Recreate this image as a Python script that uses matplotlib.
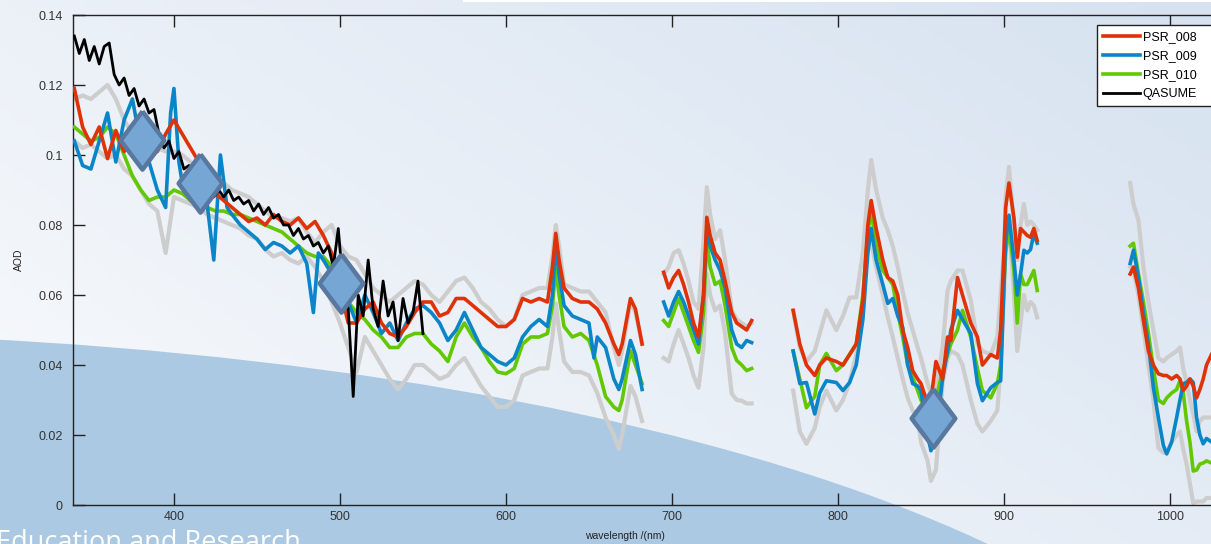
import numpy as np
import matplotlib
matplotlib.use("Agg")
import matplotlib.pyplot as plt
from matplotlib.patches import Ellipse, Rectangle

nan = np.nan

# ---- data ----
# segment 1 wavelength grid (shared by PSR_008, PSR_010 and the grey bounds)
wl1 = [340, 345, 350, 355, 360, 365, 370, 375, 380, 385, 390, 395, 400, 405, 410, 415, 420, 425, 430, 435,
       440, 445, 450, 455, 460, 465, 470, 475, 480, 485, 490, 495, 500, 505, 510, 515, 520, 525, 530, 535,
       540, 545, 550, 555, 560, 565, 570, 575, 580, 585, 590, 595, 600, 605, 610, 615, 620, 625,
       628, 630, 632, 635, 640, 645, 650, 655, 660, 665, 668, 670, 675, 678, 682]
wl2 = [695, 698, 701, 704, 707, 710, 713, 716, 719, 721, 723, 726, 729, 732, 736, 739, 742, 745, 748]
wl3 = [773, 777, 781, 786, 789, 793, 799, 803, 807, 811, 815, 818, 820, 823, 827, 830, 833, 836, 839, 842,
       845, 848, 850, 854, 856, 859, 863, 866, 868, 872, 875, 880, 884, 887, 892, 896, 898, 900, 901, 903,
       906, 908, 910, 912, 914, 916, 918, 920]
wl4 = [976, 978, 981, 984, 987, 990, 993, 996, 998, 1001, 1004, 1006, 1008, 1010, 1012, 1014, 1016, 1018,
       1020, 1022, 1025]

# PSR_008
psr008_1 = [0.119, 0.108, 0.103, 0.108, 0.099, 0.107, 0.101, 0.104, 0.102, 0.103, 0.101, 0.106, 0.110, 0.106,
            0.102, 0.098, 0.092, 0.089, 0.087, 0.085, 0.083, 0.081, 0.082, 0.080, 0.083, 0.081, 0.080, 0.082,
            0.079, 0.081, 0.077, 0.072, 0.062, 0.052, 0.052, 0.056, 0.058, 0.052, 0.049, 0.048, 0.051, 0.055,
            0.058, 0.058, 0.054, 0.055, 0.059, 0.059, 0.057, 0.055, 0.053, 0.051, 0.051, 0.053, 0.059, 0.058,
            0.059, 0.058, 0.068, 0.0776, 0.070, 0.062, 0.059, 0.058, 0.058, 0.056, 0.052, 0.046, 0.043, 0.046,
            0.059, 0.056, 0.046]
psr008_2 = [0.0665, 0.062, 0.065, 0.067, 0.063, 0.058, 0.052, 0.048, 0.060, 0.0822, 0.077, 0.072, 0.070, 0.064,
            0.055, 0.052, 0.051, 0.050, 0.0527]
psr008_3 = [0.0556, 0.046, 0.040, 0.037, 0.040, 0.042, 0.041, 0.040, 0.043, 0.046,
            0.0585, 0.080, 0.087, 0.079, 0.070, 0.065, 0.064, 0.060, 0.0499, 0.045,
            0.0384, 0.036, 0.0347, 0.029, 0.030, 0.041, 0.036, 0.048, 0.047, 0.065,
            0.060, 0.052, 0.048, 0.040, 0.043, 0.042, 0.050, 0.0728, 0.085, 0.092,
            0.082, 0.0708, 0.079, 0.078, 0.077, 0.0765, 0.079, 0.0756]
psr008_4 = [0.066, 0.068, 0.062, 0.0527, 0.044, 0.040, 0.0375, 0.037, 0.037, 0.036, 0.037, 0.036, 0.0327,
            0.034, 0.036, 0.034, 0.0306, 0.033, 0.036, 0.040, 0.043]

# PSR_009 (own grid in segment 1, it has more spikes)
wl1_009 = [340, 345, 350, 355, 360, 365, 370, 375, 380, 385, 390, 395, 398, 400, 403, 405, 410, 415, 420, 424,
           428, 432, 435, 440, 445, 450, 455, 460, 465, 470, 475, 480, 484, 487, 490, 495, 500, 505, 510, 515,
           520, 525, 530, 535, 540, 545, 550, 555, 560, 565, 570, 575, 580, 585, 590, 595, 600, 605, 610, 615,
           620, 625, 628, 630, 632, 635, 640, 645, 650, 653, 655, 660, 665, 668, 670, 675, 678, 682]
psr009_1 = [0.104, 0.097, 0.096, 0.104, 0.112, 0.098, 0.110, 0.116, 0.103, 0.098, 0.090, 0.085, 0.112, 0.119,
            0.098, 0.092, 0.090, 0.088, 0.086, 0.070, 0.100, 0.085, 0.083, 0.080, 0.078, 0.076, 0.073, 0.075,
            0.074, 0.072, 0.074, 0.069, 0.055, 0.072, 0.070, 0.066, 0.063, 0.058, 0.052, 0.060, 0.055, 0.049,
            0.052, 0.047, 0.052, 0.056, 0.057, 0.055, 0.052, 0.047, 0.050, 0.055, 0.050, 0.045, 0.043, 0.041,
            0.040, 0.042, 0.048, 0.051, 0.053, 0.051, 0.060, 0.074, 0.066, 0.057, 0.054, 0.053, 0.052, 0.042,
            0.048, 0.045, 0.036, 0.033, 0.036, 0.047, 0.043, 0.033]
psr009_2 = [0.058, 0.054, 0.058, 0.061, 0.058, 0.054, 0.050, 0.046, 0.060, 0.079, 0.074, 0.070, 0.067, 0.062,
            0.050, 0.046, 0.045, 0.047, 0.0464]
psr009_3 = [0.044, 0.0347, 0.035, 0.026, 0.032, 0.0355, 0.035, 0.0327, 0.035, 0.040,
            0.053, 0.072, 0.079, 0.070, 0.063, 0.0576, 0.059, 0.054, 0.0507, 0.040,
            0.0347, 0.034, 0.0327, 0.020, 0.0155, 0.020, 0.036, 0.044, 0.050, 0.0556,
            0.053, 0.049, 0.0347, 0.0298, 0.0335, 0.035, 0.0355, 0.063, 0.075, 0.0828,
            0.070, 0.060, 0.066, 0.0728, 0.072, 0.073, 0.0776, 0.0748]
psr009_4 = [0.069, 0.0728, 0.065, 0.055, 0.046, 0.0335, 0.025, 0.017, 0.0146, 0.018, 0.025, 0.030, 0.0347,
            0.035, 0.036, 0.035, 0.025, 0.020, 0.0175, 0.019, 0.018]

# PSR_010
psr010_1 = [0.108, 0.106, 0.104, 0.105, 0.108, 0.106, 0.100, 0.094, 0.090, 0.087, 0.088, 0.088, 0.090, 0.089,
            0.087, 0.086, 0.085, 0.084, 0.084, 0.083, 0.083, 0.082, 0.081, 0.080, 0.079, 0.078, 0.076, 0.074,
            0.072, 0.071, 0.071, 0.068, 0.062, 0.058, 0.055, 0.053, 0.050, 0.048, 0.045, 0.045, 0.048, 0.049,
            0.049, 0.046, 0.044, 0.041, 0.048, 0.052, 0.048, 0.045, 0.041, 0.038, 0.0375, 0.039, 0.046, 0.048,
            0.048, 0.049, 0.057, 0.0676, 0.060, 0.051, 0.048, 0.049, 0.047, 0.040, 0.031, 0.028, 0.027, 0.030,
            0.044, 0.040, 0.0347]
psr010_2 = [0.0527, 0.051, 0.055, 0.059, 0.055, 0.051, 0.047, 0.0436, 0.055, 0.0756, 0.068, 0.063, 0.064, 0.057,
            0.045, 0.0413, 0.040, 0.0384, 0.039]
psr010_3 = [0.044, 0.036, 0.0278, 0.031, 0.040, 0.0433, 0.0384, 0.040, 0.043, 0.046,
            0.060, 0.078, 0.0842, 0.074, 0.067, 0.065, 0.063, 0.055, 0.048, 0.040,
            0.0364, 0.0327, 0.030, 0.027, 0.026, 0.030, 0.0384, 0.043, 0.046, 0.050,
            0.0556, 0.048, 0.039, 0.0327, 0.0306, 0.0347, 0.040, 0.063, 0.072, 0.0793,
            0.067, 0.052, 0.066, 0.063, 0.063, 0.065, 0.067, 0.0613]
psr010_4 = [0.074, 0.0748, 0.066, 0.058, 0.049, 0.039, 0.030, 0.029, 0.0306, 0.032, 0.033, 0.0355, 0.032,
            0.024, 0.018, 0.0097, 0.010, 0.0117, 0.012, 0.0126, 0.012]

# grey upper / lower envelope
upper_1 = [0.116, 0.117, 0.116, 0.118, 0.120, 0.116, 0.110, 0.106, 0.104, 0.103, 0.102, 0.101, 0.101, 0.100,
           0.098, 0.096, 0.094, 0.093, 0.092, 0.090, 0.089, 0.088, 0.086, 0.084, 0.082, 0.082, 0.081, 0.082,
           0.078, 0.075, 0.078, 0.080, 0.074, 0.071, 0.070, 0.066, 0.062, 0.060, 0.058, 0.060, 0.062, 0.064,
           0.063, 0.060, 0.058, 0.061, 0.064, 0.065, 0.062, 0.058, 0.056, 0.053, 0.051, 0.053, 0.060, 0.061,
           0.062, 0.062, 0.071, 0.080, 0.074, 0.063, 0.062, 0.061, 0.061, 0.058, 0.055, 0.045, 0.040, 0.044,
           0.058, 0.055, 0.046]
upper_2 = [0.066, 0.068, 0.072, 0.0728, 0.069, 0.064, 0.058, 0.056, 0.075, 0.0908, 0.083, 0.076, 0.0785, 0.070,
           0.0556, 0.053, 0.052, 0.051, 0.0519]
upper_3 = [0.0556, 0.045, 0.041, 0.044, 0.049, 0.0556, 0.050, 0.054, 0.0593, 0.0593,
           0.072, 0.090, 0.0986, 0.090, 0.082, 0.0785, 0.074, 0.068, 0.061, 0.0547,
           0.050, 0.045, 0.042, 0.0347, 0.032, 0.033, 0.045, 0.0613, 0.064, 0.067,
           0.067, 0.0585, 0.046, 0.044, 0.043, 0.048, 0.060, 0.0728, 0.088, 0.0966,
           0.080, 0.070, 0.080, 0.086, 0.080, 0.081, 0.080, 0.0785]
upper_4 = [0.092, 0.086, 0.0814, 0.068, 0.058, 0.050, 0.042, 0.041, 0.042, 0.043, 0.044, 0.045, 0.039, 0.035,
           0.030, 0.026, 0.021, 0.024, 0.025, 0.025, 0.025]

lower_1 = [0.104, 0.102, 0.103, 0.101, 0.099, 0.100, 0.096, 0.094, 0.090, 0.086, 0.084, 0.072, 0.088, 0.087,
           0.086, 0.085, 0.083, 0.082, 0.081, 0.080, 0.079, 0.077, 0.076, 0.073, 0.071, 0.072, 0.070, 0.069,
           0.071, 0.068, 0.064, 0.058, 0.052, 0.045, 0.038, 0.048, 0.044, 0.040, 0.036, 0.033, 0.036, 0.040,
           0.040, 0.038, 0.036, 0.037, 0.040, 0.042, 0.038, 0.034, 0.031, 0.028, 0.028, 0.030, 0.037, 0.038,
           0.039, 0.039, 0.048, 0.0576, 0.050, 0.041, 0.038, 0.038, 0.037, 0.032, 0.025, 0.020, 0.016, 0.020,
           0.034, 0.031, 0.024]
lower_2 = [0.042, 0.041, 0.046, 0.050, 0.046, 0.042, 0.037, 0.0335, 0.045, 0.066, 0.060, 0.0556, 0.057, 0.049,
           0.0318, 0.030, 0.0298, 0.029, 0.029]
lower_3 = [0.0327, 0.021, 0.0175, 0.022, 0.028, 0.0327, 0.027, 0.030, 0.035, 0.043,
           0.055, 0.0785, 0.075, 0.068, 0.060, 0.0536, 0.048, 0.042, 0.036, 0.0306,
           0.027, 0.025, 0.018, 0.0126, 0.0069, 0.010, 0.035, 0.042, 0.044, 0.043,
           0.040, 0.030, 0.0232, 0.021, 0.024, 0.027, 0.040, 0.060, 0.076, 0.082,
           0.060, 0.044, 0.052, 0.060, 0.0556, 0.058, 0.057, 0.0536]
lower_4 = [0.068, 0.067, 0.060, 0.050, 0.040, 0.030, 0.0163, 0.015, 0.015, 0.018, 0.020, 0.021, 0.016, 0.0117,
           0.006, 0.0005, 0.001, 0.001, 0.001, 0.002, 0.002]

# QASUME (only up to 550 nm)
wl_qasume = list(range(340, 551, 3))
qasume = [0.134, 0.129, 0.133, 0.127, 0.131, 0.126, 0.131, 0.132, 0.123, 0.120, 0.122, 0.117, 0.119, 0.114,
          0.116, 0.112, 0.113, 0.106, 0.102, 0.104, 0.099, 0.101, 0.096, 0.097, 0.093, 0.095, 0.090, 0.092,
          0.088, 0.090, 0.088, 0.090, 0.087, 0.088, 0.086, 0.087, 0.084, 0.086, 0.083, 0.085, 0.082, 0.083,
          0.080, 0.080, 0.077, 0.079, 0.076, 0.077, 0.074, 0.075, 0.072, 0.074, 0.068, 0.079, 0.062, 0.056,
          0.031, 0.060, 0.054, 0.070, 0.056, 0.051, 0.064, 0.054, 0.058, 0.047, 0.059, 0.052, 0.055, 0.064,
          0.049]

# highlighted points
diamond_wl = [381, 416, 500.5, 857.3]
diamond_aod = [0.1043, 0.092, 0.0633, 0.0249]

ytick_vals = [0, 0.02, 0.04, 0.06, 0.08, 0.1, 0.12, 0.14]
ytick_labels = ["0", "0.02", "0.04", "0.06", "0.08", "0.1", "0.12", "0.14"]
xtick_vals = [400, 500, 600, 700, 800, 900, 1000]


def join(*parts):
    out = []
    for i, p in enumerate(parts):
        if i:
            out.append(nan)
        out.extend(p)
    return np.array(out, dtype=float)


W, H = 1211, 544
plt.rcParams['font.family'] = ['Liberation Sans', 'DejaVu Sans']
fig = plt.figure(figsize=(W / 100, H / 100), dpi=100)

# background: gradient, big blue arc, footer text
bg = fig.add_axes([0, 0, 1, 1], zorder=-1)
xx, yy = np.meshgrid(np.linspace(0, 1, 200), np.linspace(0, 1, 100))
t = np.clip(0.6 * xx + 0.4 * (1 - yy), 0, 1)[..., None]
light = np.array([250, 251, 253]) / 255
dark = np.array([214, 226, 240]) / 255
bg.imshow(light * (1 - t) + dark * t, extent=(0, W, H, 0), aspect='auto')
bg.add_patch(Ellipse((-250, 818), 3000, 970, facecolor='#abc9e3', edgecolor='none'))
bg.add_patch(Rectangle((463, 0), W - 463, 2, facecolor='white', edgecolor='none'))
bg.text(-4, 550, "Education and Research", color='white', fontsize=19.5, family=['Open Sans', 'DejaVu Sans'],
        va='baseline', ha='left')
bg.set_xlim(0, W)
bg.set_ylim(H, 0)
bg.axis('off')

# main axes
ax = fig.add_axes([73 / W, 39 / H, 1 - 73 / W, 490 / H])
ax.set_facecolor('none')

gray = '#cdcdcd'
ax.plot(join(wl1, wl2, wl3, wl4), join(upper_1, upper_2, upper_3, upper_4), color=gray, lw=3.0, zorder=2)
ax.plot(join(wl1, wl2, wl3, wl4), join(lower_1, lower_2, lower_3, lower_4), color=gray, lw=3.0, zorder=2)
l010, = ax.plot(join(wl1, wl2, wl3, wl4), join(psr010_1, psr010_2, psr010_3, psr010_4),
                color='#62c800', lw=2.6, zorder=3, label='PSR_010')
l009, = ax.plot(join(wl1_009, wl2, wl3, wl4), join(psr009_1, psr009_2, psr009_3, psr009_4),
                color='#0a86c8', lw=2.6, zorder=4, label='PSR_009')
l008, = ax.plot(join(wl1, wl2, wl3, wl4), join(psr008_1, psr008_2, psr008_3, psr008_4),
                color='#e03208', lw=2.6, zorder=5, label='PSR_008')
lq, = ax.plot(wl_qasume, qasume, color='black', lw=2.0, zorder=6, label='QASUME')

diamond = [(0, 1), (0.75, 0), (0, -1), (-0.75, 0), (0, 1)]
ax.plot(diamond_wl, diamond_aod, ls='none', marker=diamond, ms=42, mfc='#76a6d4', mec='#58789f',
        mew=3.2, zorder=8)

ax.set_xlim(339.2, 1024.7)
ax.set_ylim(0, 0.14)
ax.set_xticks(xtick_vals)
ax.set_yticks(ytick_vals)
ax.set_yticklabels(ytick_labels)
ax.tick_params(direction='in', top=True, right=False, length=8.5, width=1, labelsize=9,
               labelcolor='#333333', color='#222222')
ax.tick_params(axis='x', pad=4)
ax.tick_params(axis='y', pad=7.5)
for s in ['left', 'bottom', 'top']:
    ax.spines[s].set_linewidth(1.0)
    ax.spines[s].set_color('#222222')
ax.spines['right'].set_visible(False)

ax.set_xlabel('wavelength /(nm)', fontsize=7.5, color='#222222')
ax.xaxis.set_label_coords((625 - 73) / (W - 73), -0.054)
ax.set_ylabel('AOD', fontsize=7.5, color='#222222')
ax.yaxis.set_label_coords(-0.043, 0.5)

# legend box runs past the right edge of the picture, as in the original
leg_h = 86 / H
leg = ax.legend(handles=[l008, l009, l010, lq], loc='upper left', mode='expand',
                bbox_to_anchor=(1097 / W, 1 - 25 / H - leg_h, 140 / W, leg_h),
                bbox_transform=fig.transFigure, fontsize=9, frameon=True, fancybox=False, framealpha=1,
                edgecolor='#222222', borderaxespad=0, borderpad=0.5, labelspacing=0.55,
                handlelength=2.9, handletextpad=0.25)
leg.get_frame().set_linewidth(1.0)
leg.set_zorder(10)

fig.savefig('out.png', dpi=100)
